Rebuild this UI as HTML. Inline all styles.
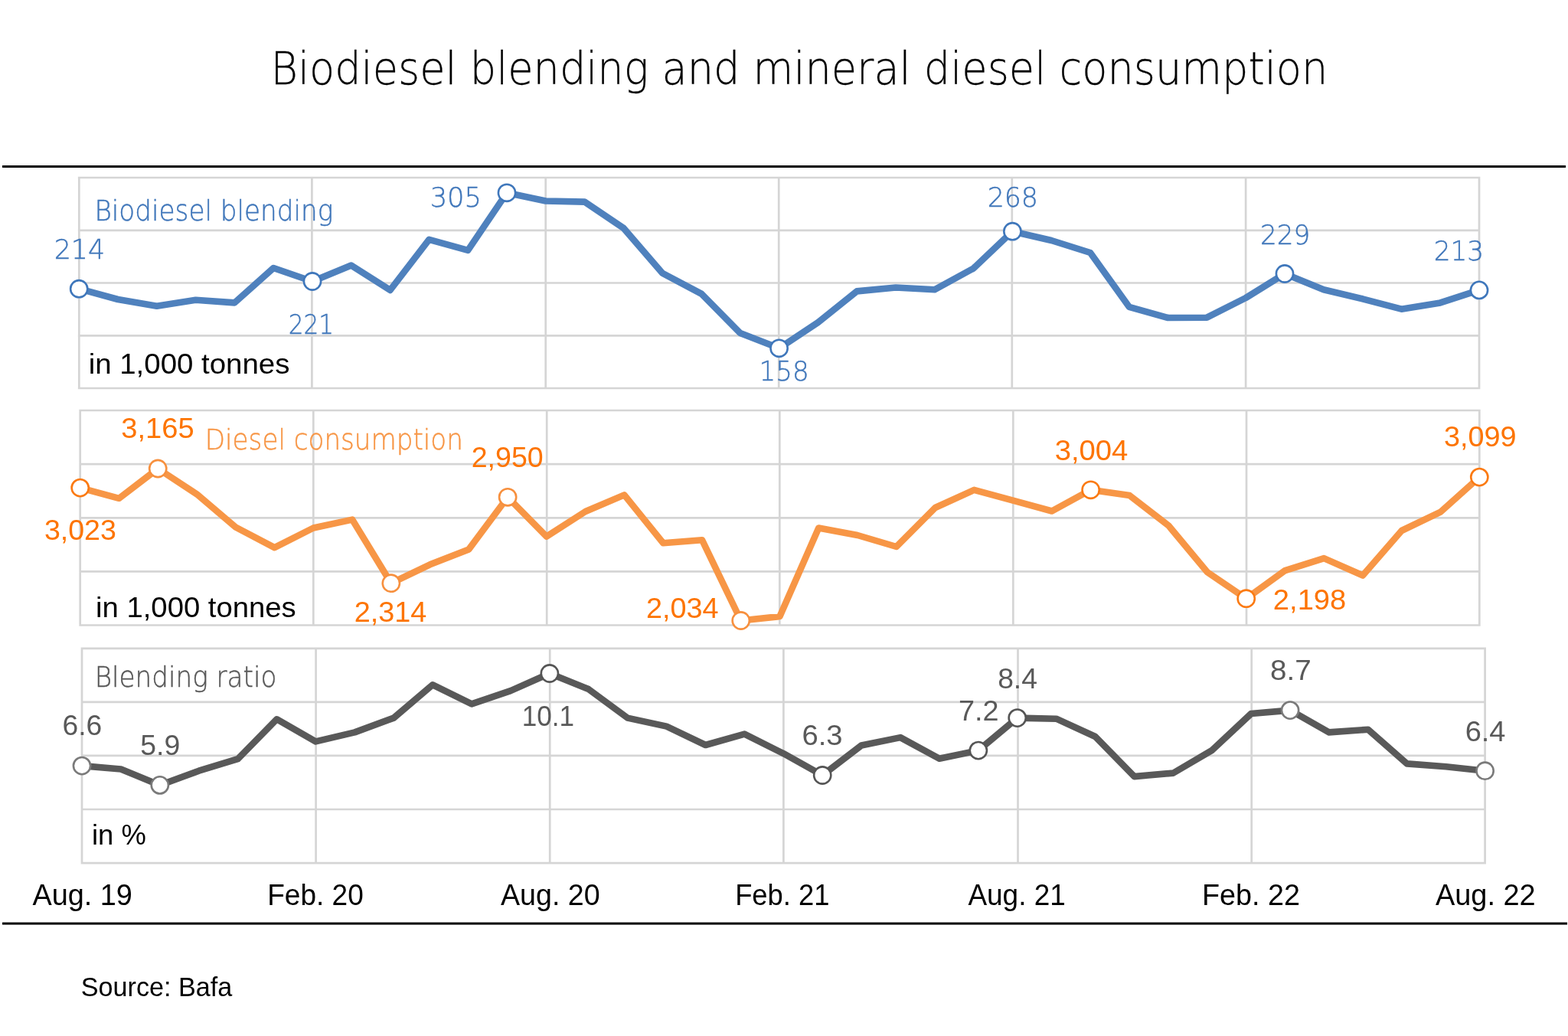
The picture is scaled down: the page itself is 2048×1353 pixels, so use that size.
<!DOCTYPE html><html><head><meta charset="utf-8"><title>Biodiesel blending and mineral diesel consumption</title>
<style>html,body{margin:0;padding:0;background:#fff;}svg{display:block;}text{font-family:"Liberation Sans", Arial, sans-serif;}</style></head><body>
<svg width="2048" height="1353" viewBox="0 0 2048 1353">
<rect width="2048" height="1353" fill="#ffffff"/>
<rect x="3" y="216" width="2042" height="3" fill="#000"/>
<rect x="3" y="1204.6" width="2044" height="3" fill="#000"/>
<path d="M103.2 232H1932M103.2 300.8H1932M103.2 369.5H1932M103.2 438.3H1932M103.2 507H1932M103.3 232V507M407.4 232V507M712.7 232V507M1017.2 232V507M1321.8 232V507M1627.1 232V507M1932 232V507" stroke="#d5d5d5" stroke-width="2.7" fill="none" stroke-linecap="square"/>
<path d="M104.7 536H1932.3M104.7 606.2H1932.3M104.7 676.3H1932.3M104.7 746.4H1932.3M104.7 816.5H1932.3M104.7 536V816.5M409.3 536V816.5M714.2 536V816.5M1018.3 536V816.5M1323.3 536V816.5M1628 536V816.5M1932.3 536V816.5" stroke="#d5d5d5" stroke-width="2.7" fill="none" stroke-linecap="square"/>
<path d="M107 846.8H1939.6M107 916.8H1939.6M107 986.9H1939.6M107 1057H1939.6M107 1127.1H1939.6M107 846.8V1127.1M412.6 846.8V1127.1M718.2 846.8V1127.1M1023.4 846.8V1127.1M1329.5 846.8V1127.1M1634.7 846.8V1127.1M1939.6 846.8V1127.1" stroke="#d5d5d5" stroke-width="2.7" fill="none" stroke-linecap="square"/>
<polyline points="103.2,377.2 154,391 204.8,399.7 255.6,391.8 306.4,395.4 357.2,350 408,367.5 458.8,346.6 509.6,378.9 560.4,312.9 611.2,326.8 662,251.8 712.8,262.5 763.6,263.6 814.4,297.9 865.2,356.8 916,383.6 966.8,435.1 1017.6,454.8 1068.4,421.1 1119.2,380.4 1170,375.5 1220.8,378.3 1271.6,350.4 1322.4,302.2 1373.2,314 1424,330 1474.8,400.8 1525.6,415 1576.4,414.7 1627.2,389 1678,357.5 1728.8,378.3 1779.6,390.3 1830.4,403.7 1881.2,395.4 1932,378.9" stroke="#4f81bd" stroke-width="8.6" fill="none" stroke-linejoin="round"/>
<circle cx="103.2" cy="377.2" r="11.1" fill="#fff" stroke="#3f77bb" stroke-width="2.6"/>
<circle cx="408" cy="367.5" r="11.1" fill="#fff" stroke="#3f77bb" stroke-width="2.6"/>
<circle cx="662" cy="251.8" r="11.1" fill="#fff" stroke="#3f77bb" stroke-width="2.6"/>
<circle cx="1017.6" cy="454.8" r="11.1" fill="#fff" stroke="#3f77bb" stroke-width="2.6"/>
<circle cx="1322.4" cy="302.2" r="11.1" fill="#fff" stroke="#3f77bb" stroke-width="2.6"/>
<circle cx="1678" cy="357.5" r="11.1" fill="#fff" stroke="#3f77bb" stroke-width="2.6"/>
<circle cx="1932" cy="378.9" r="11.1" fill="#fff" stroke="#3f77bb" stroke-width="2.6"/>
<polyline points="104.7,637.1 155.47,650.8 206.23,612 257,645.3 307.77,688.5 358.53,715.1 409.3,689.5 460.07,678.6 510.83,761.7 561.6,737.3 612.37,717.4 663.13,649.3 713.9,700.7 764.67,668 815.43,646.4 866.2,709.2 916.97,705.2 967.73,810.5 1018.5,805 1069.27,689.6 1120.03,699 1170.8,714 1221.57,663 1272.33,639.8 1323.1,653.7 1373.87,667.5 1424.63,639.8 1475.4,647.1 1526.17,686.3 1576.93,747.3 1627.7,781.7 1678.47,745.1 1729.23,729.1 1780,751.5 1830.77,693 1881.53,668.6 1932.3,623.1" stroke="#f79646" stroke-width="8.6" fill="none" stroke-linejoin="round"/>
<circle cx="104.7" cy="637.1" r="11.1" fill="#fff" stroke="#fb7a12" stroke-width="2.6"/>
<circle cx="206.23" cy="612" r="11.1" fill="#fff" stroke="#f7903e" stroke-width="2.6"/>
<circle cx="510.83" cy="761.7" r="11.1" fill="#fff" stroke="#f7903e" stroke-width="2.6"/>
<circle cx="663.13" cy="649.3" r="11.1" fill="#fff" stroke="#f7903e" stroke-width="2.6"/>
<circle cx="967.73" cy="810.5" r="11.1" fill="#fff" stroke="#f7903e" stroke-width="2.6"/>
<circle cx="1424.63" cy="639.8" r="11.1" fill="#fff" stroke="#fb7a12" stroke-width="2.6"/>
<circle cx="1627.7" cy="781.7" r="11.1" fill="#fff" stroke="#fb7a12" stroke-width="2.6"/>
<circle cx="1932.3" cy="623.1" r="11.1" fill="#fff" stroke="#fb7a12" stroke-width="2.6"/>
<polyline points="107,1000.1 157.91,1004.5 208.81,1025.4 259.72,1006.7 310.62,991.2 361.53,939.3 412.43,968.4 463.34,956.4 514.24,937.6 565.15,894.3 616.06,919.4 666.96,902.1 717.87,879.5 768.77,900.1 819.68,937.6 870.58,948.6 921.49,973 972.39,958.6 1023.3,984.1 1074.21,1012.5 1125.11,973.5 1176.02,963.1 1226.92,990.8 1277.83,980.1 1328.73,937.6 1379.64,938.7 1430.54,962 1481.45,1014.1 1532.36,1009.6 1583.26,979.7 1634.17,932 1685.07,927.6 1735.98,956.4 1786.88,952.8 1837.79,997.4 1888.69,1001.2 1939.6,1006.7" stroke="#595959" stroke-width="8.6" fill="none" stroke-linejoin="round"/>
<circle cx="107" cy="1000.1" r="11.1" fill="#fff" stroke="#7a7a7a" stroke-width="2.6"/>
<circle cx="208.81" cy="1025.4" r="11.1" fill="#fff" stroke="#7a7a7a" stroke-width="2.6"/>
<circle cx="717.87" cy="879.5" r="11.1" fill="#fff" stroke="#555555" stroke-width="2.6"/>
<circle cx="1074.21" cy="1012.5" r="11.1" fill="#fff" stroke="#555555" stroke-width="2.6"/>
<circle cx="1277.83" cy="980.1" r="11.1" fill="#fff" stroke="#555555" stroke-width="2.6"/>
<circle cx="1328.73" cy="937.6" r="11.1" fill="#fff" stroke="#555555" stroke-width="2.6"/>
<circle cx="1685.07" cy="927.6" r="11.1" fill="#fff" stroke="#7a7a7a" stroke-width="2.6"/>
<circle cx="1939.6" cy="1006.7" r="11.1" fill="#fff" stroke="#7a7a7a" stroke-width="2.6"/>
<text x="353.53" y="110.2" font-size="59" fill="#000000" textLength="1380.75" lengthAdjust="spacingAndGlyphs" font-weight="200" stroke="#000000" stroke-width="0.3" style="font-family:&quot;DejaVu Sans&quot;,&quot;Liberation Sans&quot;,sans-serif">Biodiesel blending and mineral diesel consumption</text>
<text x="123.46" y="288.2" font-size="38.1" fill="#4177ba" textLength="311.78" lengthAdjust="spacingAndGlyphs" font-weight="200" stroke="#4177ba" stroke-width="0.45" style="font-family:&quot;DejaVu Sans&quot;,&quot;Liberation Sans&quot;,sans-serif">Biodiesel blending</text>
<text x="70.66" y="337.9" font-size="35.8" fill="#4177ba" textLength="66.41" lengthAdjust="spacingAndGlyphs" font-weight="200" stroke="#4177ba" stroke-width="0.45" style="font-family:&quot;DejaVu Sans&quot;,&quot;Liberation Sans&quot;,sans-serif">214</text>
<text x="376.82" y="436.1" font-size="35.8" fill="#4177ba" textLength="59.33" lengthAdjust="spacingAndGlyphs" font-weight="200" stroke="#4177ba" stroke-width="0.45" style="font-family:&quot;DejaVu Sans&quot;,&quot;Liberation Sans&quot;,sans-serif">221</text>
<text x="561.64" y="270" font-size="35.8" fill="#4177ba" textLength="67.34" lengthAdjust="spacingAndGlyphs" font-weight="200" stroke="#4177ba" stroke-width="0.45" style="font-family:&quot;DejaVu Sans&quot;,&quot;Liberation Sans&quot;,sans-serif">305</text>
<text x="991.56" y="497.2" font-size="35.8" fill="#4177ba" textLength="65.02" lengthAdjust="spacingAndGlyphs" font-weight="200" stroke="#4177ba" stroke-width="0.45" style="font-family:&quot;DejaVu Sans&quot;,&quot;Liberation Sans&quot;,sans-serif">158</text>
<text x="1289.67" y="270" font-size="35.8" fill="#4177ba" textLength="66.27" lengthAdjust="spacingAndGlyphs" font-weight="200" stroke="#4177ba" stroke-width="0.45" style="font-family:&quot;DejaVu Sans&quot;,&quot;Liberation Sans&quot;,sans-serif">268</text>
<text x="1645.9" y="318.9" font-size="35.8" fill="#4177ba" textLength="65.23" lengthAdjust="spacingAndGlyphs" font-weight="200" stroke="#4177ba" stroke-width="0.45" style="font-family:&quot;DejaVu Sans&quot;,&quot;Liberation Sans&quot;,sans-serif">229</text>
<text x="1872.69" y="340.3" font-size="35.8" fill="#4177ba" textLength="65.51" lengthAdjust="spacingAndGlyphs" font-weight="200" stroke="#4177ba" stroke-width="0.45" style="font-family:&quot;DejaVu Sans&quot;,&quot;Liberation Sans&quot;,sans-serif">213</text>
<text x="115.66" y="487.6" font-size="36" fill="#000000" textLength="262.72" lengthAdjust="spacingAndGlyphs">in 1,000 tonnes</text>
<text x="267.84" y="587" font-size="38.1" fill="#f79646" textLength="337.02" lengthAdjust="spacingAndGlyphs" font-weight="200" stroke="#f79646" stroke-width="0.45" style="font-family:&quot;DejaVu Sans&quot;,&quot;Liberation Sans&quot;,sans-serif">Diesel consumption</text>
<text x="158.33" y="572.1" font-size="36" fill="#fd7400" textLength="95.27" lengthAdjust="spacingAndGlyphs">3,165</text>
<text x="57.94" y="705.2" font-size="36" fill="#fd7400" textLength="93.93" lengthAdjust="spacingAndGlyphs">3,023</text>
<text x="615.71" y="610.3" font-size="36" fill="#fd7400" textLength="93.93" lengthAdjust="spacingAndGlyphs">2,950</text>
<text x="462.69" y="811.6" font-size="36" fill="#fd7400" textLength="94.65" lengthAdjust="spacingAndGlyphs">2,314</text>
<text x="843.9" y="806.7" font-size="36" fill="#fd7400" textLength="94.55" lengthAdjust="spacingAndGlyphs">2,034</text>
<text x="1377.7" y="601" font-size="36" fill="#fd7400" textLength="95.69" lengthAdjust="spacingAndGlyphs">3,004</text>
<text x="1662.88" y="796.1" font-size="36" fill="#fd7400" textLength="95.33" lengthAdjust="spacingAndGlyphs">2,198</text>
<text x="1885.93" y="583.2" font-size="36" fill="#fd7400" textLength="94.55" lengthAdjust="spacingAndGlyphs">3,099</text>
<text x="125.05" y="806" font-size="36" fill="#000000" textLength="261.7" lengthAdjust="spacingAndGlyphs">in 1,000 tonnes</text>
<text x="123.65" y="897.2" font-size="38.1" fill="#595959" textLength="237.73" lengthAdjust="spacingAndGlyphs" font-weight="200" stroke="#595959" stroke-width="0.45" style="font-family:&quot;DejaVu Sans&quot;,&quot;Liberation Sans&quot;,sans-serif">Blending ratio</text>
<text x="81.56" y="960.4" font-size="36" fill="#595959" textLength="51.75" lengthAdjust="spacingAndGlyphs">6.6</text>
<text x="183.33" y="986.3" font-size="36" fill="#595959" textLength="51.96" lengthAdjust="spacingAndGlyphs">5.9</text>
<text x="681.66" y="947.5" font-size="36" fill="#595959" textLength="68.27" lengthAdjust="spacingAndGlyphs">10.1</text>
<text x="1047.5" y="973" font-size="36" fill="#595959" textLength="53.13" lengthAdjust="spacingAndGlyphs">6.3</text>
<text x="1252.1" y="940.9" font-size="36" fill="#595959" textLength="52.55" lengthAdjust="spacingAndGlyphs">7.2</text>
<text x="1303.15" y="898.8" font-size="36" fill="#595959" textLength="51.82" lengthAdjust="spacingAndGlyphs">8.4</text>
<text x="1659.1" y="888.3" font-size="36" fill="#595959" textLength="53.67" lengthAdjust="spacingAndGlyphs">8.7</text>
<text x="1913.68" y="968.2" font-size="36" fill="#595959" textLength="52.82" lengthAdjust="spacingAndGlyphs">6.4</text>
<text x="119.98" y="1102.7" font-size="36" fill="#000000" textLength="70.76" lengthAdjust="spacingAndGlyphs">in %</text>
<text x="42.41" y="1182.3" font-size="38.5" fill="#000000" textLength="130.4" lengthAdjust="spacingAndGlyphs">Aug. 19</text>
<text x="349.29" y="1182.3" font-size="38.5" fill="#000000" textLength="125.42" lengthAdjust="spacingAndGlyphs">Feb. 20</text>
<text x="653.99" y="1182.3" font-size="38.5" fill="#000000" textLength="129.62" lengthAdjust="spacingAndGlyphs">Aug. 20</text>
<text x="960.14" y="1182.3" font-size="38.5" fill="#000000" textLength="123.26" lengthAdjust="spacingAndGlyphs">Feb. 21</text>
<text x="1264.39" y="1182.3" font-size="38.5" fill="#000000" textLength="127.47" lengthAdjust="spacingAndGlyphs">Aug. 21</text>
<text x="1570.06" y="1182.3" font-size="38.5" fill="#000000" textLength="127.87" lengthAdjust="spacingAndGlyphs">Feb. 22</text>
<text x="1875" y="1182.3" font-size="38.5" fill="#000000" textLength="130.61" lengthAdjust="spacingAndGlyphs">Aug. 22</text>
<text x="105.84" y="1301.2" font-size="35" fill="#000000" textLength="197.41" lengthAdjust="spacingAndGlyphs">Source: Bafa</text>
</svg></body></html>
